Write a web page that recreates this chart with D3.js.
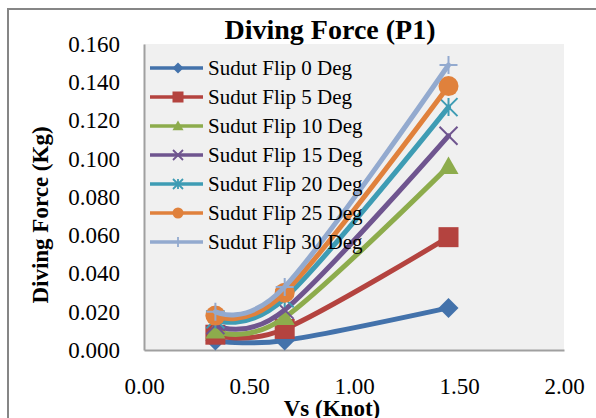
<!DOCTYPE html>
<html>
<head>
<meta charset="utf-8">
<script src="https://cdn.jsdelivr.net/npm/d3@7"></script>
<style>
  body { margin: 0; background: #fff; }
  svg text { font-family: "Liberation Serif", "Times New Roman", serif; fill: #000; }
</style>
</head>
<body>
<svg id="chart"></svg>
<script>
var width = 596;
var height = 418;

// data
var speeds = [0.34, 0.67, 1.45];
var seriesNames = ["Sudut Flip 0 Deg", "Sudut Flip 5 Deg", "Sudut Flip 10 Deg", "Sudut Flip 15 Deg",
                   "Sudut Flip 20 Deg", "Sudut Flip 25 Deg", "Sudut Flip 30 Deg"];
var flip0 = [0.005, 0.005, 0.022];
var flip5 = [0.008, 0.011, 0.059];
var flip10 = [0.010, 0.017, 0.096];
var flip15 = [0.013, 0.021, 0.112];
var flip20 = [0.016, 0.027, 0.127];
var flip25 = [0.018, 0.030, 0.138];
var flip30 = [0.020, 0.033, 0.149];
var yTicks = [0, 0.02, 0.04, 0.06, 0.08, 0.10, 0.12, 0.14, 0.16];
var xTicks = [0, 0.5, 1, 1.5, 2];

var allValues = [flip0, flip5, flip10, flip15, flip20, flip25, flip30];
var colors = ["#4372ab", "#b4433f", "#8dac4c", "#6f558f", "#3e9cb4", "#e0813c", "#93aacf"];
var shapes = ["diamond", "square", "triangle", "cross", "star", "circle", "plus"];

var series = seriesNames.map(function(name, i){
  return {
    name: name,
    color: colors[i],
    shape: shapes[i],
    points: speeds.map(function(s, j){ return {x: s, y: allValues[i][j]}; })
  };
});

var margin = {top: 44, right: 32, bottom: 68, left: 144};

var svg = d3.select("#chart")
            .attr("width", width)
            .attr("height", height);

// outer frame
svg.append("rect")
   .attr("x", 8).attr("y", 9)
   .attr("width", width + 20).attr("height", height + 20)
   .attr("fill", "none")
   .attr("stroke", "#868686")
   .attr("stroke-width", 2);

var x = d3.scaleLinear()
          .domain([0, 2])
          .range([margin.left, width - margin.right]);

var y = d3.scaleLinear()
          .domain([0, 0.16])
          .range([height - margin.bottom, margin.top]);

// plot area
svg.append("rect")
   .attr("x", x(0)).attr("y", y(0.16))
   .attr("width", x(2) - x(0)).attr("height", y(0) - y(0.16))
   .attr("fill", "#f0f0f0");

var yAxis = d3.axisLeft(y)
              .tickValues(yTicks)
              .tickSize(0)
              .tickPadding(24)
              .tickFormat(d3.format(".3f"));

svg.append("g")
   .attr("transform", "translate(" + x(0) + ",0)")
   .call(yAxis)
   .call(function(g){
     g.attr("font-family", null).attr("font-size", null);
     g.select(".domain").attr("stroke", "#a0a0a0").attr("stroke-width", 2);
     g.selectAll("text").style("font-size", "23px");
   });

var xAxis = d3.axisBottom(x)
              .tickValues(xTicks)
              .tickSize(0)
              .tickPadding(28)
              .tickFormat(d3.format(".2f"));

svg.append("g")
   .attr("transform", "translate(0," + y(0) + ")")
   .call(xAxis)
   .call(function(g){
     g.attr("font-family", null).attr("font-size", null);
     g.select(".domain").attr("stroke", "#a0a0a0").attr("stroke-width", 2);
     g.selectAll("text").style("font-size", "23px");
   });

// lines
var line = d3.line()
             .x(function(d){ return x(d.x); })
             .y(function(d){ return y(d.y); })
             .curve(d3.curveCardinal.tension(0));

var symbolFor = function(shape, size){
  var p = d3.path();
  var h = size / 2;
  if (shape === "diamond") {
    p.moveTo(0, -h); p.lineTo(h, 0); p.lineTo(0, h); p.lineTo(-h, 0); p.closePath();
  } else if (shape === "square") {
    p.rect(-h, -h, size, size);
  } else if (shape === "triangle") {
    p.moveTo(0, -h); p.lineTo(h, h * 0.75); p.lineTo(-h, h * 0.75); p.closePath();
  } else if (shape === "circle") {
    p.arc(0, 0, h, 0, 2 * Math.PI);
  } else if (shape === "cross") {
    p.moveTo(-h, -h); p.lineTo(h, h); p.moveTo(h, -h); p.lineTo(-h, h);
  } else if (shape === "plus") {
    p.moveTo(-h, 0); p.lineTo(h, 0); p.moveTo(0, -h); p.lineTo(0, h);
  } else if (shape === "star") {
    p.moveTo(-h, -h); p.lineTo(h, h); p.moveTo(h, -h); p.lineTo(-h, h);
    p.moveTo(0, -h); p.lineTo(0, h);
  }
  return p.toString();
};

var isOpen = function(shape){
  return shape === "cross" || shape === "plus" || shape === "star";
};

var groups = svg.append("g").selectAll(".series")
                .data(series)
                .enter().append("g")
                .attr("class", "series");

groups.append("path")
      .attr("d", function(d){ return line(d.points); })
      .attr("fill", "none")
      .attr("stroke", function(d){ return d.color; })
      .attr("stroke-width", 5)
      .attr("stroke-linecap", "round");

groups.each(function(s){
  d3.select(this).selectAll(".mark")
    .data(s.points)
    .enter().append("path")
    .attr("class", "mark")
    .attr("transform", function(d){ return "translate(" + x(d.x) + "," + y(d.y) + ")"; })
    .attr("d", symbolFor(s.shape, isOpen(s.shape) ? 18 : 20))
    .attr("fill", isOpen(s.shape) ? "none" : s.color)
    .attr("stroke", s.color)
    .attr("stroke-width", isOpen(s.shape) ? 2 : 0);
});

// legend
var legend = svg.append("g").selectAll(".legend")
                .data(series)
                .enter().append("g")
                .attr("class", "legend")
                .attr("transform", function(d, i){ return "translate(150," + (68 + i * 29) + ")"; });

legend.append("line")
      .attr("x1", 0).attr("x2", 53)
      .attr("stroke", function(d){ return d.color; })
      .attr("stroke-width", 3.5);

legend.append("path")
      .attr("transform", "translate(28,0)")
      .attr("d", function(d){ return symbolFor(d.shape, isOpen(d.shape) ? 10 : 11); })
      .attr("fill", function(d){ return isOpen(d.shape) ? "none" : d.color; })
      .attr("stroke", function(d){ return d.color; })
      .attr("stroke-width", function(d){ return isOpen(d.shape) ? 1.8 : 0; });

legend.append("text")
      .attr("x", 58)
      .attr("dy", "0.33em")
      .style("font-size", "21px")
      .text(function(d){ return d.name; });

// titles
svg.append("text")
   .attr("x", 330).attr("y", 39)
   .attr("text-anchor", "middle")
   .style("font-size", "28px")
   .style("font-weight", "bold")
   .text("Diving Force (P1)");

svg.append("text")
   .attr("x", 332).attr("y", 416)
   .attr("text-anchor", "middle")
   .style("font-size", "23px")
   .style("font-weight", "bold")
   .text("Vs (Knot)");

svg.append("text")
   .attr("transform", "translate(48,215) rotate(-90)")
   .attr("text-anchor", "middle")
   .style("font-size", "23px")
   .style("font-weight", "bold")
   .text("Diving Force (Kg)");
</script>
</body>
</html>
